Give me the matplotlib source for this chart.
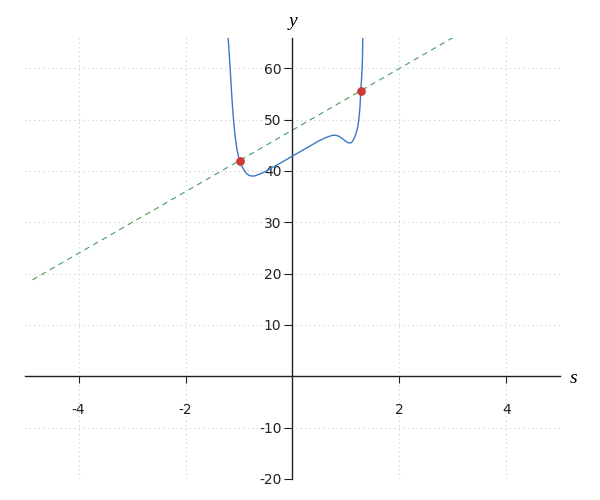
import numpy as np
import matplotlib.pyplot as plt

plt.rcParams['axes.unicode_minus'] = False

# curve
curve_s = [-1.202, -1.18, -1.16, -1.14, -1.12, -1.10, -1.07, -1.04, -1.01, -0.985,
           -0.955, -0.93, -0.90, -0.87, -0.835, -0.80, -0.75, -0.70, -0.64, -0.57,
           -0.50, -0.41, -0.30, -0.20, -0.10, 0.0, 0.10, 0.20, 0.30, 0.40,
           0.50, 0.60, 0.70, 0.76, 0.81, 0.86, 0.92, 0.98, 1.03, 1.07,
           1.097, 1.12, 1.15, 1.175, 1.196, 1.22, 1.24, 1.26, 1.277, 1.29,
           1.302, 1.309, 1.314]
curve_y = [65.8, 62.5, 59.0, 55.5, 52.3, 49.6, 46.6, 44.3, 42.8, 41.9,
           41.1, 40.6, 40.1, 39.6, 39.3, 39.1, 39.0, 39.05, 39.3, 39.6,
           39.9, 40.5, 41.1, 41.7, 42.3, 42.9, 43.5, 44.1, 44.7, 45.3,
           45.9, 46.4, 46.8, 46.95, 46.95, 46.8, 46.4, 45.9, 45.55, 45.45,
           45.5, 45.75, 46.3, 46.9, 47.6, 48.6, 50.0, 52.3, 55.6, 57.8,
           60.0, 62.5, 65.8]

# tangent line (dashed) end points
line_s = [-4.86, 3.02]
line_y = [18.8, 66.1]

# marked points
pts_s = [-0.985, 1.277]
pts_y = [41.9, 55.6]

xticks = [-4, -2, 2, 4]
yticks = [-20, -10, 10, 20, 30, 40, 50, 60]

fig = plt.figure(figsize=(6, 5), dpi=100)
ax = fig.add_axes([0.0417, 0.042, 0.8916, 0.882])

ax.set_xlim(-5, 5)
ax.set_ylim(-20, 65.9)

for x in xticks:
    ax.axvline(x, color='#cccccc', lw=0.8, ls=(0, (1, 3)), zorder=0)
for y in yticks:
    ax.axhline(y, color='#cccccc', lw=0.8, ls=(0, (1, 3)), zorder=0)

ax.plot(line_s, line_y, color='#4a9e5c', lw=0.8, ls=(0, (5, 4)), zorder=2)
ax.plot(curve_s, curve_y, color='#3a78c2', lw=1.0, zorder=3)
ax.scatter(pts_s, pts_y, s=28, color='#cc3b37', zorder=4)

ax.spines['left'].set_position(('data', 0))
ax.spines['bottom'].set_position(('data', 0))
ax.spines['right'].set_visible(False)
ax.spines['top'].set_visible(False)
for sp in ('left', 'bottom'):
    ax.spines[sp].set_color('#222222')
    ax.spines[sp].set_linewidth(1.0)

ax.set_xticks(xticks)
ax.set_yticks(yticks)
ax.tick_params(axis='x', direction='out', length=5, pad=14, labelsize=10,
               colors='#222222')
ax.tick_params(axis='y', direction='out', length=6, pad=2, labelsize=10,
               colors='#222222')

ax.text(5.18, -0.5, 's', fontsize=14, family='Liberation Serif', style='italic',
        ha='left', va='center', clip_on=False)
ax.text(0, 67.5, 'y', fontsize=14, family='Liberation Serif', style='italic',
        ha='center', va='bottom', clip_on=False)

fig.savefig('out.png', dpi=100)
